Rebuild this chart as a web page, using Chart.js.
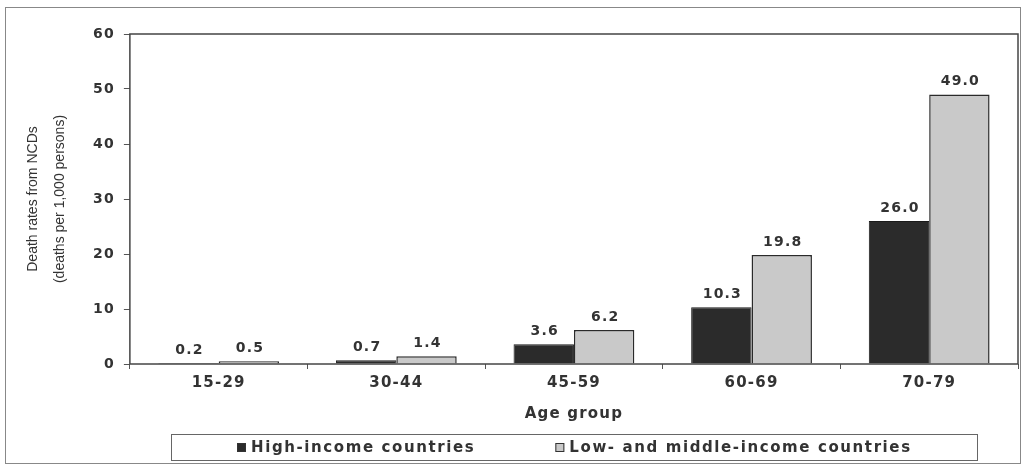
<!DOCTYPE html>
<html>
<head>
<meta charset="utf-8">
<script src="https://cdn.jsdelivr.net/npm/chart.js@4/dist/chart.umd.min.js"></script>
<style>
  html, body { margin: 0; padding: 0; background: #fff; }
  #wrap { width: 1022px; height: 466px; position: relative; }
</style>
</head>
<body>
<div id="wrap"><canvas id="chart" width="1022" height="466"></canvas></div>
<script>
// ----------------- DATA -----------------
const ageGroups = ["15-29", "30-44", "45-59", "60-69", "70-79"];
const highIncome = [0.2, 0.7, 3.6, 10.3, 26.0];
const lowMiddleIncome = [0.5, 1.4, 6.2, 19.8, 49.0];
const yTicks = [0, 10, 20, 30, 40, 50, 60];
const seriesNames = ["High-income countries", "Low- and middle-income countries"];
const yTitle = ["Death rates from NCDs", "(deaths per 1,000 persons)"];
const xTitle = "Age group";

const FONT = "'DejaVu Sans', 'Liberation Sans', sans-serif";
const NARROW = "'Liberation Sans Narrow', 'Arial Narrow', 'Liberation Sans', sans-serif";
const TEXT = "#333";
const SPACING = "1.2px";   // the scanned original has wide tracking
const darkFill = "#2b2b2b";
const lightFill = "#c9c9c9";

// ----------------- PLUGINS -----------------
// letter spacing has to be set again after every canvas resize
const tracking = {
    id: "tracking",
    beforeUpdate(chart) { chart.ctx.letterSpacing = SPACING; },
    beforeDraw(chart) { chart.ctx.letterSpacing = SPACING; }
};

// outer frame, plot frame, y title and legend
const decorations = {
    id: "decorations",
    afterDraw(chart) {
        const ctx = chart.ctx;
        const a = chart.chartArea;
        ctx.save();
        ctx.strokeStyle = "#888";
        ctx.lineWidth = 1;
        ctx.strokeRect(5.5, 7.5, 1015, 456);
        ctx.strokeStyle = "#444";
        ctx.lineWidth = 1.5;
        ctx.strokeRect(a.left, a.top, a.right - a.left, a.bottom - a.top);

        // y axis title (two lines, condensed face)
        ctx.letterSpacing = "0px";
        ctx.fillStyle = TEXT;
        ctx.font = "14px " + NARROW;
        ctx.textAlign = "center";
        ctx.textBaseline = "middle";
        const midY = (a.top + a.bottom) / 2;
        [33, 60].forEach((x, i) => {
            ctx.save();
            ctx.translate(x, midY);
            ctx.rotate(-Math.PI / 2);
            ctx.fillText(yTitle[i], 0, 0);
            ctx.restore();
        });

        // legend
        ctx.letterSpacing = "1.6px";
        ctx.strokeStyle = "#666";
        ctx.lineWidth = 1;
        ctx.strokeRect(171.5, 434.5, 806, 26);
        ctx.font = "bold 15px " + FONT;
        ctx.textAlign = "left";
        let x = 237;
        const cy = 448;
        const fills = [darkFill, lightFill];
        seriesNames.forEach((name, i) => {
            ctx.fillStyle = fills[i];
            ctx.fillRect(x, cy - 5, 9, 9);
            ctx.strokeStyle = "#333";
            ctx.strokeRect(x + 0.5, cy - 4.5, 8, 8);
            ctx.fillStyle = TEXT;
            ctx.fillText(name, x + 14, cy);
            x += 14 + ctx.measureText(name).width + 80;
        });
        ctx.restore();
    }
};

// value labels above bars
const valueLabels = {
    id: "valueLabels",
    afterDatasetsDraw(chart) {
        const ctx = chart.ctx;
        ctx.save();
        ctx.font = "bold 14px " + FONT;
        ctx.fillStyle = TEXT;
        ctx.textAlign = "center";
        ctx.textBaseline = "bottom";
        chart.data.datasets.forEach((ds, i) => {
            chart.getDatasetMeta(i).data.forEach((bar, j) => {
                ctx.fillText(ds.data[j].toFixed(1), bar.x + 1, bar.y - 6);
            });
        });
        ctx.restore();
    }
};

// ----------------- CHART -----------------
const ctx = document.getElementById("chart").getContext("2d");
new Chart(ctx, {
    type: "bar",
    data: {
        labels: ageGroups,
        datasets: [
            {
                label: seriesNames[0],
                data: highIncome,
                backgroundColor: darkFill,
                borderColor: "#1a1a1a",
                borderWidth: 1
            },
            {
                label: seriesNames[1],
                data: lowMiddleIncome,
                backgroundColor: lightFill,
                borderColor: "#2a2a2a",
                borderWidth: 1.5
            }
        ]
    },
    options: {
        responsive: false,
        animation: false,
        layout: { padding: { left: 84, right: 4, top: 34, bottom: 39 } },
        datasets: {
            bar: { categoryPercentage: 0.68, barPercentage: 1.0 }
        },
        scales: {
            x: {
                grid: {
                    offset: true,
                    drawOnChartArea: false,
                    color: "#555",
                    tickLength: 5
                },
                border: { display: false },
                ticks: {
                    font: { family: FONT, size: 15, weight: "bold" },
                    color: TEXT,
                    padding: 5
                },
                title: {
                    display: true,
                    text: xTitle,
                    font: { family: FONT, size: 15, weight: "bold" },
                    color: TEXT,
                    padding: { top: 8, bottom: 4 }
                }
            },
            y: {
                min: 0,
                max: 60,
                afterBuildTicks(axis) {
                    axis.ticks = yTicks.map(v => ({ value: v }));
                },
                grid: {
                    drawOnChartArea: false,
                    color: "#555",
                    tickLength: 6
                },
                border: { display: false },
                ticks: {
                    font: { family: FONT, size: 14, weight: "bold" },
                    color: TEXT,
                    padding: 9
                }
            }
        },
        plugins: {
            legend: { display: false },
            tooltip: { enabled: false }
        }
    },
    plugins: [tracking, decorations, valueLabels]
});
</script>
</body>
</html>
